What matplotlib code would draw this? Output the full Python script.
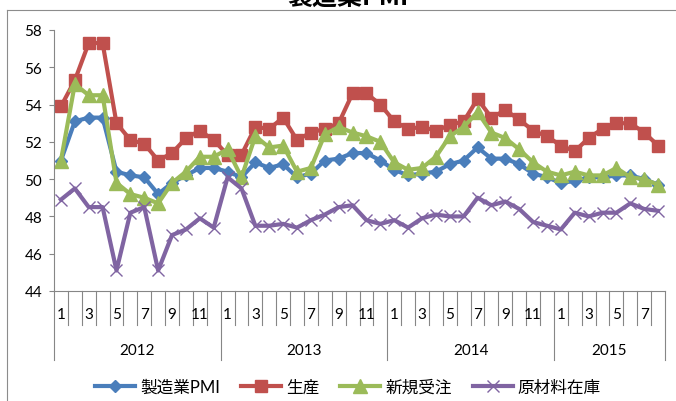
import matplotlib
matplotlib.use('Agg')
import matplotlib.pyplot as plt
from matplotlib.lines import Line2D
import matplotlib.transforms as mtransforms

# ---- data ----
years = ['2012', '2013', '2014', '2015']
year_lengths = [12, 12, 12, 8]
months = [m for n in year_lengths for m in range(1, n + 1)]
series_names = ['製造業PMI', '生産', '新規受注', '原材料在庫']

pmi = [51.0, 53.1, 53.3, 53.3, 50.4, 50.2, 50.1, 49.2, 49.8, 50.2, 50.6, 50.6,
       50.4, 50.1, 50.9, 50.6, 50.8, 50.1, 50.3, 51.0, 51.1, 51.4, 51.4, 51.0,
       50.5, 50.2, 50.3, 50.4, 50.8, 51.0, 51.7, 51.1, 51.1, 50.8, 50.3, 50.1,
       49.8, 49.9, 50.1, 50.1, 50.2, 50.2, 50.0, 49.7]
production = [53.9, 55.3, 57.3, 57.3, 53.0, 52.1, 51.9, 51.0, 51.4, 52.2, 52.6, 52.1,
              51.3, 51.3, 52.8, 52.7, 53.3, 52.1, 52.5, 52.7, 53.0, 54.6, 54.6, 54.0,
              53.1, 52.7, 52.8, 52.6, 52.9, 53.1, 54.3, 53.3, 53.7, 53.2, 52.6, 52.3,
              51.8, 51.5, 52.2, 52.7, 53.0, 53.0, 52.5, 51.8]
new_orders = [51.0, 55.1, 54.5, 54.5, 49.8, 49.2, 49.0, 48.7, 49.8, 50.4, 51.2, 51.2,
              51.6, 50.1, 52.3, 51.7, 51.8, 50.4, 50.6, 52.4, 52.8, 52.5, 52.3, 52.0,
              50.9, 50.5, 50.6, 51.2, 52.3, 52.8, 53.6, 52.5, 52.2, 51.6, 50.9, 50.4,
              50.2, 50.4, 50.2, 50.2, 50.6, 50.1, 50.0, 49.7]
raw_inventory = [48.9, 49.5, 48.5, 48.5, 45.1, 48.2, 48.5, 45.1, 47.0, 47.3, 47.9, 47.4,
                 50.1, 49.5, 47.5, 47.5, 47.6, 47.4, 47.8, 48.1, 48.5, 48.6, 47.8, 47.6,
                 47.8, 47.4, 47.9, 48.1, 48.0, 48.0, 49.0, 48.6, 48.8, 48.4, 47.7, 47.5,
                 47.3, 48.2, 48.0, 48.2, 48.2, 48.7, 48.4, 48.3]

plt.rcParams['font.family'] = ['Lato', 'Noto Sans CJK JP', 'DejaVu Sans']

W, H = 676, 402
fig = plt.figure(figsize=(W / 100, H / 100), dpi=100)
ax_l, ax_r, ax_t, ax_b = 54, 665, 31, 292
ax = fig.add_axes([ax_l / W, 1 - ax_b / H, (ax_r - ax_l) / W, (ax_b - ax_t) / H])

gray = '#868686'
x = list(range(len(pmi)))
styles = [
    (pmi, '#4A7EBB', 'D', 5.8, 1.0),
    (production, '#C0504D', 's', 8.5, 1.0),
    (new_orders, '#9BBB59', '^', 9.5, 1.0),
    (raw_inventory, '#8064A2', 'x', 8.5, 1.0),
]
handles = []
for (vals, col, mk, ms, mew), name in zip(styles, series_names):
    ln, = ax.plot(x, vals, color=col, lw=3, marker=mk, ms=ms, mfc=col, mec=col,
                  mew=mew, label=name, solid_joinstyle='round', clip_on=False)
    handles.append(ln)

ax.set_xlim(-0.5, len(pmi) - 0.5)
ax.set_ylim(44, 58)
ax.set_yticks(range(44, 59, 2))
for s in ['top', 'right']:
    ax.spines[s].set_visible(False)
for s in ['left', 'bottom']:
    ax.spines[s].set_color(gray)
    ax.spines[s].set_linewidth(0.8)
ax.tick_params(axis='x', bottom=False, labelbottom=False)
ax.tick_params(axis='y', direction='out', length=3.6, width=0.8, color=gray,
               labelsize=11, pad=5, labelcolor='black')

# category axis (month / year)
trans = mtransforms.blended_transform_factory(ax.transData, ax.transAxes)
axh = ax_b - ax_t
month_len = -(326 - ax_b) / axh
year_len = -(361 - ax_b) / axh
year_bounds = []
acc = 0
for n in year_lengths:
    year_bounds.append(acc)
    acc += n
year_bounds.append(acc)
for i in range(len(pmi) + 1):
    b = i - 0.5
    ln = year_len if i in year_bounds else month_len
    ax.plot([b, b], [0, ln], transform=trans, clip_on=False, color=gray, lw=0.8)
for i, m in enumerate(months):
    if m % 2 == 1:
        ax.text(i, -(315 - ax_b) / axh, str(m), transform=trans, ha='center',
                va='center', fontsize=11)
for k, yr in enumerate(years):
    c = (year_bounds[k] + year_bounds[k + 1] - 1) / 2
    ax.text(c, -(351 - ax_b) / axh, yr, transform=trans, ha='center',
            va='center', fontsize=11)

# legend
fig.legend(handles, series_names, loc='center', bbox_to_anchor=(348 / W, 1 - 388 / H),
           ncol=4, frameon=False, fontsize=12, handlelength=2.4, handletextpad=0.3,
           columnspacing=1.25, borderaxespad=0)

# title (cropped at top) and outer frame
fig.text(348 / W, 1 - 5 / H, '製造業PMI', ha='center', va='baseline', fontsize=18,
         fontweight='bold', family=['Noto Sans CJK JP'])
fig.add_artist(Line2D([7 / W, 7 / W], [0, 1 - 10.5 / H], transform=fig.transFigure,
                      color='#8c8c8c', lw=0.8))
fig.add_artist(Line2D([7 / W, 1], [1 - 10.5 / H, 1 - 10.5 / H], transform=fig.transFigure,
                      color='#8c8c8c', lw=0.8))

fig.savefig('out.png', dpi=100)
